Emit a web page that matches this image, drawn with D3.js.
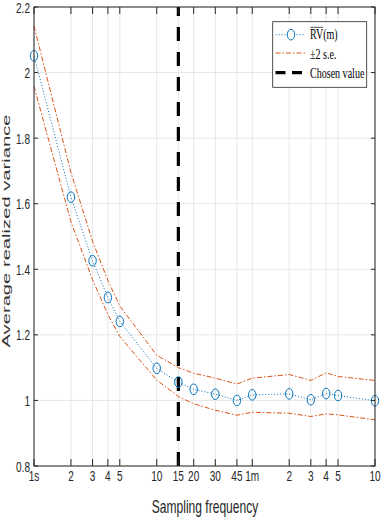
<!DOCTYPE html>
<html>
<head>
<meta charset="utf-8">
<script src="https://cdn.jsdelivr.net/npm/d3@7"></script>
<style>
  body { margin: 0; background: #fff; }
  .tick-label { font-family: "Liberation Sans", Arial, sans-serif; font-size: 15px; fill: #262626; }
  .axis-title { font-family: "Liberation Sans", Arial, sans-serif; font-size: 18px; fill: #262626; }
  .y-title { font-family: "Liberation Sans", Arial, sans-serif; font-size: 16px; fill: #333; }
  .legend-text { font-family: "Liberation Serif", "DejaVu Serif", serif; font-size: 15px; fill: #000; }
</style>
</head>
<body>
<svg id="chart" width="381" height="523"></svg>
<script>
// sampling frequency in seconds
const freqs = [1, 2, 3, 4, 5, 10, 15, 20, 30, 45, 60, 120, 180, 240, 300, 600];
const freqLabels = ["1s", "2", "3", "4", "5", "10", "15", "20", "30", "45", "1m", "2", "3", "4", "5", "10"];
const avgRV = [2.051, 1.620, 1.426, 1.314, 1.241, 1.098, 1.056, 1.034, 1.019, 1.000, 1.017, 1.020, 1.002, 1.021, 1.015, 0.999];
const upperSE = [2.142, 1.695, 1.485, 1.366, 1.288, 1.138, 1.100, 1.083, 1.068, 1.050, 1.068, 1.079, 1.061, 1.084, 1.073, 1.061];
const lowerSE = [1.958, 1.545, 1.368, 1.262, 1.195, 1.062, 1.012, 0.990, 0.970, 0.955, 0.964, 0.961, 0.951, 0.959, 0.956, 0.941];
const yTicks = [0.8, 1, 1.2, 1.4, 1.6, 1.8, 2, 2.2];
const chosen = 15;

const svg = d3.select('#chart');
const mLeft = 34, mRight = 375, mTop = 7, mBottom = 466;
const squash = 0.67; // the figure is narrowed horizontally

const x = d3.scaleLog().domain([1, 600]).range([mLeft, mRight]);
const y = d3.scaleLinear().domain([0.8, 2.2]).range([mBottom, mTop]);

const blue = '#0072BD', orange = '#D95319', axisCol = '#262626';

// narrow text helper
function sText(parent, tx, ty, str, cls, anchor) {
  return parent.append('g')
    .attr('transform', `translate(${tx},${ty}) scale(${squash},1)`)
    .append('text').attr('class', cls)
    .attr('text-anchor', anchor || 'start')
    .text(str);
}

// grid
svg.append('g').selectAll('line').data(freqs).join('line')
  .attr('x1', d => x(d)).attr('x2', d => x(d))
  .attr('y1', mTop).attr('y2', mBottom)
  .attr('stroke', '#e6e6e6').attr('stroke-width', 1);
svg.append('g').selectAll('line').data(yTicks).join('line')
  .attr('x1', mLeft).attr('x2', mRight)
  .attr('y1', d => y(d)).attr('y2', d => y(d))
  .attr('stroke', '#e6e6e6').attr('stroke-width', 1);

// band lines
const line = d3.line().x((d, i) => x(freqs[i])).y(d => y(d));
[upperSE, lowerSE].forEach(s => {
  svg.append('path').attr('d', line(s))
    .attr('fill', 'none').attr('stroke', orange).attr('stroke-width', 1)
    .attr('stroke-dasharray', '5,2,1.5,2');
});

// mean line
svg.append('path').attr('d', line(avgRV))
  .attr('fill', 'none').attr('stroke', blue).attr('stroke-width', 1)
  .attr('stroke-dasharray', '1,2');

// chosen value (drawn bottom to top)
svg.append('line')
  .attr('x1', x(chosen)).attr('x2', x(chosen))
  .attr('y1', mBottom).attr('y2', mTop)
  .attr('stroke', '#000').attr('stroke-width', 3.2)
  .attr('stroke-dasharray', '14,11');

// markers
svg.append('g').selectAll('ellipse').data(avgRV).join('ellipse')
  .attr('cx', (d, i) => x(freqs[i])).attr('cy', d => y(d))
  .attr('rx', 3.7).attr('ry', 5.3)
  .attr('fill', 'none').attr('stroke', blue).attr('stroke-width', 1);

// axes box
svg.append('rect').attr('x', mLeft).attr('y', mTop)
  .attr('width', mRight - mLeft).attr('height', mBottom - mTop)
  .attr('fill', 'none').attr('stroke', axisCol).attr('stroke-width', 1);

// ticks (inward, all four sides)
const tlx = 7, tly = 4;
freqs.forEach(f => {
  svg.append('line').attr('x1', x(f)).attr('x2', x(f)).attr('y1', mBottom).attr('y2', mBottom - tlx).attr('stroke', axisCol);
  svg.append('line').attr('x1', x(f)).attr('x2', x(f)).attr('y1', mTop).attr('y2', mTop + tlx).attr('stroke', axisCol);
});
yTicks.forEach(v => {
  svg.append('line').attr('x1', mLeft).attr('x2', mLeft + tly).attr('y1', y(v)).attr('y2', y(v)).attr('stroke', axisCol);
  svg.append('line').attr('x1', mRight).attr('x2', mRight - tly).attr('y1', y(v)).attr('y2', y(v)).attr('stroke', axisCol);
});

// tick labels
freqs.forEach((f, i) => sText(svg, x(f), 481, freqLabels[i], 'tick-label', 'middle'));
yTicks.forEach(v => sText(svg, 30, y(v) + 5.5, d3.format('~g')(v), 'tick-label', 'end'));

// axis titles
sText(svg, 205, 513, 'Sampling frequency', 'axis-title', 'middle');
svg.append('g')
  .attr('transform', `translate(9.5,231) scale(${squash},1) rotate(-90)`)
  .append('text').attr('class', 'y-title')
  .attr('text-anchor', 'middle')
  .attr('textLength', 233).attr('lengthAdjust', 'spacingAndGlyphs')
  .text('Average realized variance');

// legend
const lg = svg.append('g');
lg.append('rect').attr('x', 272.7).attr('y', 21.7).attr('width', 94).attr('height', 65.6)
  .attr('fill', '#fff').attr('stroke', axisCol).attr('stroke-width', 0.8);
const rows = [34.7, 53, 72.7];
lg.append('line').attr('x1', 275.5).attr('x2', 305).attr('y1', rows[0]).attr('y2', rows[0])
  .attr('stroke', blue).attr('stroke-dasharray', '1,2');
lg.append('ellipse').attr('cx', 291).attr('cy', rows[0]).attr('rx', 3.7).attr('ry', 5.3)
  .attr('fill', '#fff').attr('stroke', blue);
lg.append('line').attr('x1', 275.5).attr('x2', 305).attr('y1', rows[1]).attr('y2', rows[1])
  .attr('stroke', orange).attr('stroke-dasharray', '5,2,1.5,2');
lg.append('line').attr('x1', 275.5).attr('x2', 305).attr('y1', rows[2]).attr('y2', rows[2])
  .attr('stroke', '#000').attr('stroke-width', 3.2).attr('stroke-dasharray', '10,6.5');

const t0 = sText(lg, 310, 39.3, '', 'legend-text');
t0.append('tspan').text('RV');
t0.append('tspan').text('(m)');
const rvW = t0.node().getSubStringLength(0, 2);
d3.select(t0.node().parentNode).append('line')
  .attr('x1', 0.5).attr('x2', rvW).attr('y1', -12).attr('y2', -12)
  .attr('stroke', '#000').attr('stroke-width', 0.8);
sText(lg, 310, 58.5, '±2 s.e.', 'legend-text');
sText(lg, 310, 78.3, 'Chosen value', 'legend-text');
</script>
</body>
</html>
